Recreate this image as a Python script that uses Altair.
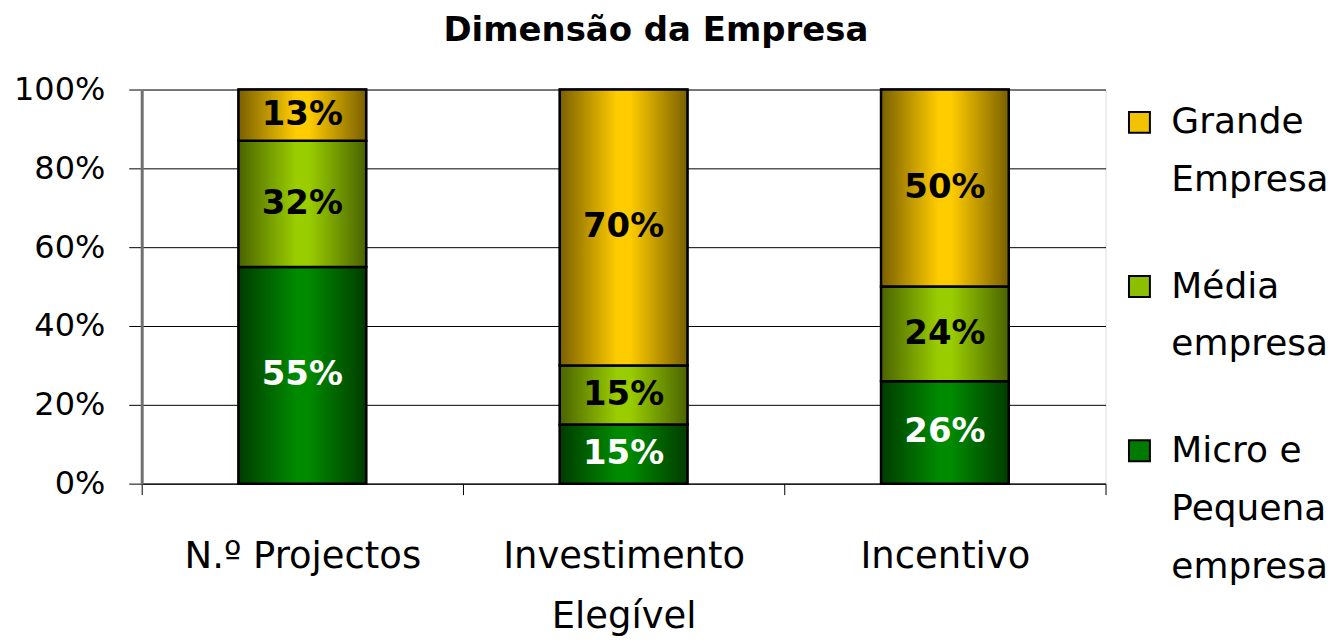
import altair as alt
import pandas as pd

categories = ["N.º Projectos", "Investimento\nElegível", "Incentivo"]
series = ["Micro e Pequena empresa", "Média empresa", "Grande Empresa"]
micro = [55, 15, 26]
media = [32, 15, 24]
grande = [13, 70, 50]
y_ticks = [0, 20, 40, 60, 80, 100]

legend_series = ["Grande Empresa", "Média empresa", "Micro e Pequena empresa"]
legend_lines = [["Grande", "Empresa"], ["Média", "empresa"], ["Micro e", "Pequena", "empresa"]]

solid = {"Micro e Pequena empresa": "#007A00", "Média empresa": "#8CBF00", "Grande Empresa": "#F2C200"}
grad = {
    "Micro e Pequena empresa": ("#003C00", "#008A00"),
    "Média empresa": ("#4A6400", "#9ACD00"),
    "Grande Empresa": ("#7A6000", "#FFCC00"),
}

rows = []
for i, c in enumerate(categories):
    for j, (s, vals) in enumerate(zip(series, [micro, media, grande])):
        rows.append({"category": c, "series": s, "value": vals[i], "order": j,
                     "label": f"{vals[i]}%"})
df = pd.DataFrame(rows)

FONT = "DejaVu Sans"
BAR = 128

base = alt.Chart(df).transform_stack(
    stack="value", groupby=["category"], as_=["y0", "y1"],
    sort=[alt.SortField("order", order="ascending")]
).transform_calculate(ymid="(datum.y0 + datum.y1) / 2")

xscale = alt.Scale(paddingInner=0, paddingOuter=0)
xenc = alt.X("category:N", sort=categories, title=None, scale=xscale,
             axis=alt.Axis(labelAngle=0, labelExpr="split(datum.label, '\\n')",
                           labelFontSize=37, labelFont=FONT, labelColor="black",
                           labelLineHeight=60, labelPadding=44, labelBaseline="top",
                           labelLimit=0,
                           tickBand="extent", tickSize=11, tickColor="black",
                           domainColor="black", domainWidth=1, grid=False))
yenc = alt.Y("y1:Q", title=None,
             scale=alt.Scale(domain=[0, 100], nice=False),
             axis=alt.Axis(values=y_ticks, labelExpr="datum.value + '%'",
                           labelFontSize=32, labelFont=FONT, labelColor="black",
                           tickSize=13, tickColor="black", labelPadding=24,
                           domainColor="#707070", domainWidth=3,
                           grid=True, gridColor="black", gridWidth=1, gridOpacity=1))

solid_layer = base.mark_bar(stroke="black", strokeWidth=2, size=BAR).encode(
    x=xenc, y=yenc, y2="y0:Q",
    color=alt.Color("series:N", scale=alt.Scale(domain=series, range=[solid[s] for s in series]), legend=None),
)

grad_layers = []
for s in series:
    dark, bright = grad[s]
    g = alt.Gradient(gradient="linear", x1=0, x2=1, y1=0, y2=0,
                     stops=[alt.GradientStop(color=dark, offset=0),
                            alt.GradientStop(color=bright, offset=0.45),
                            alt.GradientStop(color=bright, offset=0.55),
                            alt.GradientStop(color=dark, offset=1)])
    grad_layers.append(
        base.transform_filter(alt.datum.series == s)
        .mark_bar(fill=g, stroke="black", strokeWidth=2.5, size=BAR)
        .encode(x=alt.X("category:N", sort=categories, scale=xscale), y="y1:Q", y2="y0:Q")
    )

text_layer = base.mark_text(fontSize=34, fontWeight="bold", font=FONT, baseline="middle").encode(
    x=alt.X("category:N", sort=categories, scale=xscale),
    y="ymid:Q",
    text="label:N",
    color=alt.condition(alt.datum.series == "Micro e Pequena empresa", alt.value("white"), alt.value("black")),
)

main = alt.layer(solid_layer, *grad_layers, text_layer).properties(width=966, height=395)

ldf = pd.DataFrame({"series": legend_series, "lines": legend_lines})
lbase = alt.Chart(ldf).encode(
    y=alt.Y("series:N", sort=legend_series, axis=None,
            scale=alt.Scale(type="point", padding=0.2)),
)
lsym = lbase.mark_square(size=440, stroke="black", strokeWidth=2, opacity=1).encode(
    x=alt.value(23),
    color=alt.Color("series:N", scale=alt.Scale(domain=series, range=[solid[s] for s in series]), legend=None),
)
ltxt = lbase.mark_text(align="left", baseline="middle", fontSize=36, font=FONT, lineHeight=58).encode(
    x=alt.value(55), text="lines",
)
legend = alt.layer(lsym, ltxt).properties(width=205, height=395, view=alt.ViewConfig(stroke=None, fill=None))

chart = alt.hconcat(main, legend, spacing=10).properties(
    title=alt.TitleParams("Dimensão da Empresa", fontSize=34, fontWeight="bold", font=FONT,
                          anchor="middle", dx=-15, offset=25, color="black"),
).configure_view(fill="#C0C0C0", stroke="#808080").configure(background="white")

chart.save("out.html", embed_options={"renderer": "svg", "actions": False})
